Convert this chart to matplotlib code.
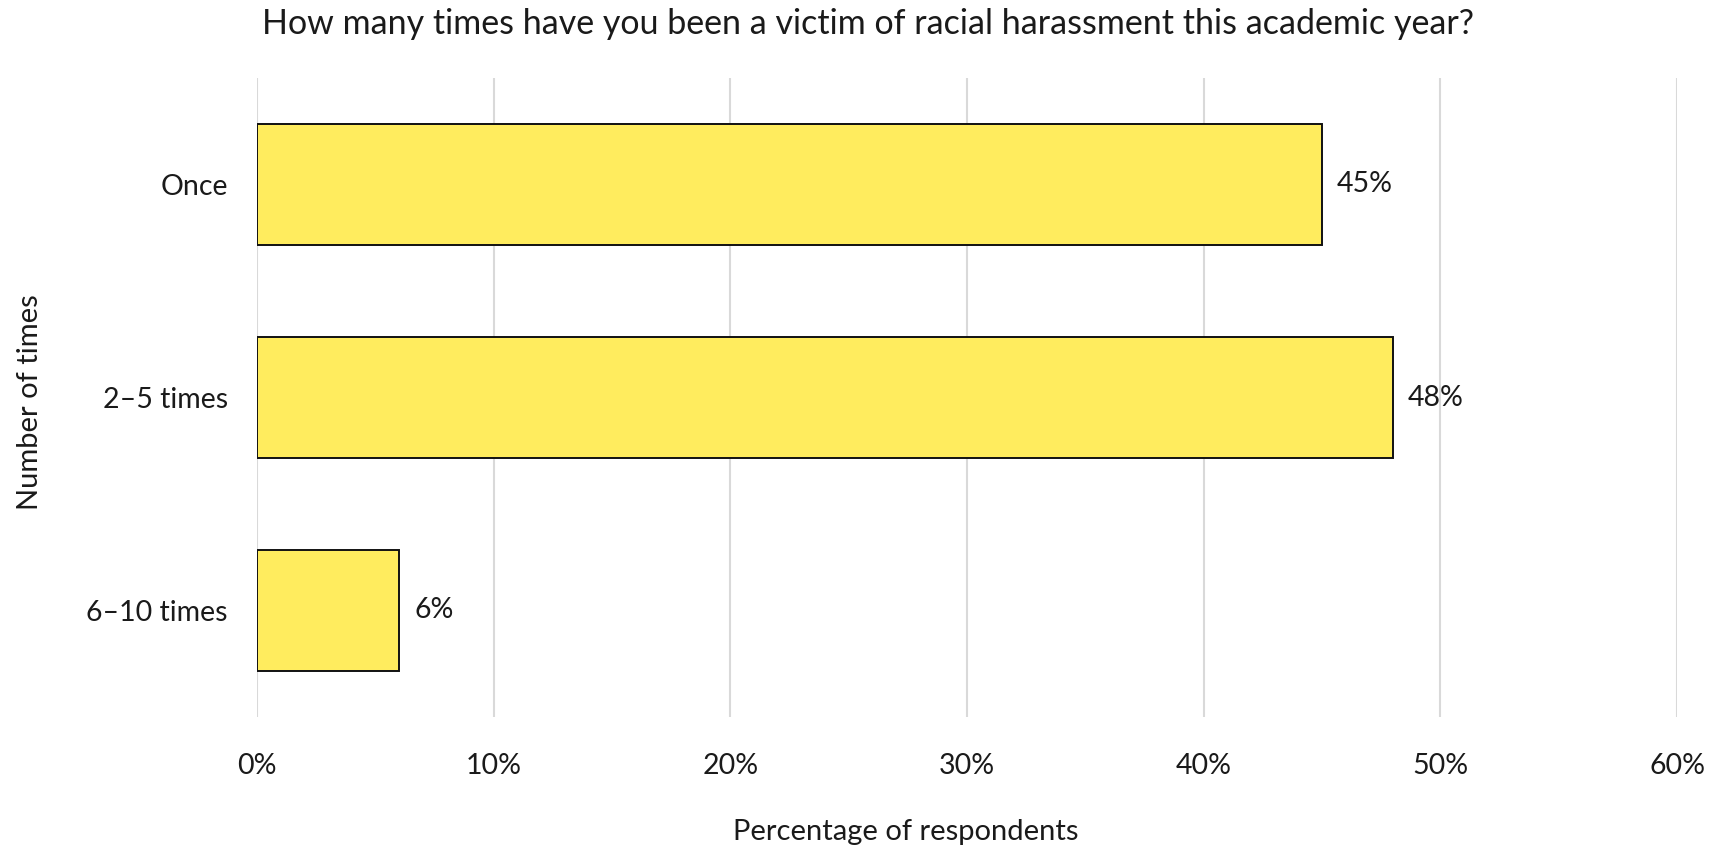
import matplotlib
matplotlib.use("Agg")
import matplotlib.pyplot as plt
from matplotlib.ticker import PercentFormatter

# Survey responses
categories = ["Once", "2–5 times", "6–10 times"]
shares = [45, 48, 6]
x_ticks = [0, 10, 20, 30, 40, 50, 60]

plt.rcParams["font.family"] = ["Lato", "DejaVu Sans"]

W, H = 1717, 852
fig = plt.figure(figsize=(W / 100, H / 100), dpi=100)

# plot area in pixels
left, right, top, bottom = 257, 1677, 78, 717
ax = fig.add_axes([left / W, 1 - bottom / H, (right - left) / W, (bottom - top) / H])

ypos = list(range(len(categories)))
ax.barh(ypos, shares, height=0.571, color="#FFEC5E", edgecolor="#111111",
        linewidth=1.4, zorder=3)

ax.set_xlim(0, 60)
ax.set_ylim(2.5, -0.5)
ax.set_xticks(x_ticks)
ax.xaxis.set_major_formatter(PercentFormatter(decimals=0))
ax.set_yticks(ypos)
ax.set_yticklabels(categories)
ax.grid(axis="x", color="#D9D9D9", linewidth=1.5, zorder=0)
ax.tick_params(axis="both", length=0, labelsize=20.5, colors="#1a1a1a")
ax.tick_params(axis="x", pad=26)
ax.tick_params(axis="y", pad=21)
for s in ax.spines.values():
    s.set_visible(False)

for y, v in zip(ypos, shares):
    ax.annotate(f"{v}%", (v, y), xytext=(15, 0), textcoords="offset pixels",
                ha="left", va="center", fontsize=20.5, color="#1a1a1a")

fig.text(868 / W, 1 - 24 / H,
         "How many times have you been a victim of racial harassment this academic year?",
         ha="center", va="center", fontsize=24.5, color="#1a1a1a")
fig.text(906 / W, 1 - 832 / H, "Percentage of respondents",
         ha="center", va="center", fontsize=21, color="#1a1a1a")
fig.text(30 / W, 1 - 402 / H, "Number of times", rotation=90,
         ha="center", va="center", fontsize=21, color="#1a1a1a")

fig.savefig("out.png", dpi=100)
